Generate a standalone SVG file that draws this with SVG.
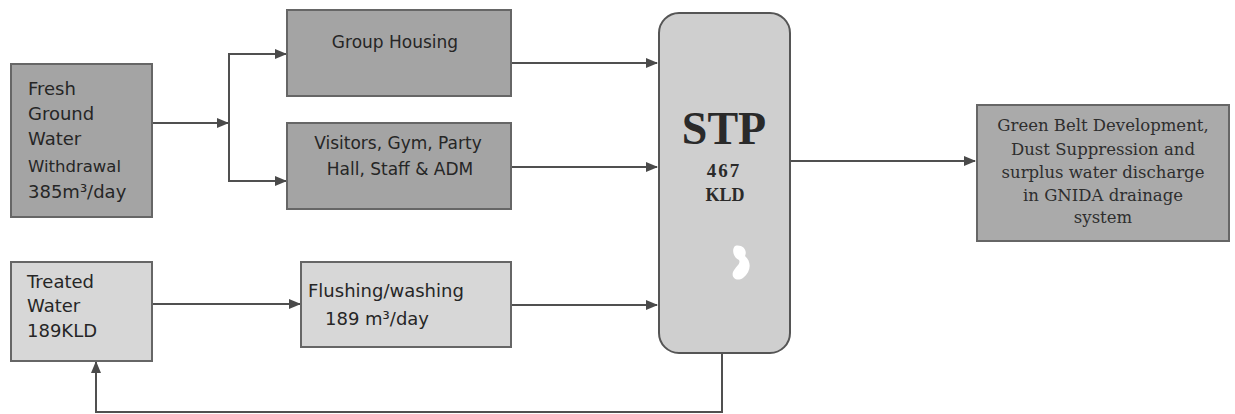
<svg xmlns="http://www.w3.org/2000/svg" width="1235" height="414" viewBox="0 0 1235 414">
<defs>
<marker id="arr" markerUnits="userSpaceOnUse" markerWidth="12" markerHeight="10" refX="11" refY="5" orient="auto">
<path d="M0,0 L12,5 L0,10 Z" fill="#4a4a4a"/>
</marker>
<style>
.box{stroke:#666;stroke-width:2}
.dark{fill:#a4a4a4}
.light{fill:#d7d7d7}
.sans{font-family:"DejaVu Sans",Verdana,sans-serif;fill:#262626}
.serif{font-family:"DejaVu Serif",Cambria,serif;fill:#2e2e2e}
.stp{font-family:"Liberation Serif","Times New Roman",serif;font-weight:bold;fill:#2a2a2a}
.conn{fill:none;stroke:#505050;stroke-width:2}
</style>
</defs>
<rect width="1235" height="414" fill="#ffffff"/>
<g id="connectors">
<path class="conn" d="M152,123 H228" marker-end="url(#arr)"/>
<path class="conn" d="M286,54 H229 V181 H286" marker-end="url(#arr)"/>
<path class="conn" d="M229,54 H286" marker-end="url(#arr)"/>
<path class="conn" d="M511,63 H657" marker-end="url(#arr)"/>
<path class="conn" d="M511,167 H657" marker-end="url(#arr)"/>
<path class="conn" d="M511,305 H657" marker-end="url(#arr)"/>
<path class="conn" d="M152,304 H300" marker-end="url(#arr)"/>
<path class="conn" d="M790,161 H975" marker-end="url(#arr)"/>
<path class="conn" d="M722,353 V412 H96 V362" marker-end="url(#arr)"/>
</g>
<g id="fresh">
<rect class="box dark" x="11" y="64" width="141" height="153"/>
<text class="sans" font-size="18" x="28" y="95">Fresh</text>
<text class="sans" font-size="18" x="28" y="120">Ground</text>
<text class="sans" font-size="18" x="28" y="145">Water</text>
<text class="sans" font-size="16.5" x="28" y="172">Withdrawal</text>
<text class="sans" font-size="18" x="28" y="198">385m³/day</text>
</g>
<g id="group-housing">
<rect class="box dark" x="287" y="10" width="224" height="86"/>
<text class="sans" font-size="17" x="395" y="48" text-anchor="middle">Group Housing</text>
</g>
<g id="visitors">
<rect class="box dark" x="287" y="123" width="224" height="86"/>
<text class="sans" font-size="17" x="398" y="149" text-anchor="middle">Visitors, Gym, Party</text>
<text class="sans" font-size="17" x="400" y="175" text-anchor="middle">Hall, Staff &amp; ADM</text>
</g>
<g id="treated">
<rect class="box light" x="11" y="262" width="141" height="99"/>
<text class="sans" font-size="18" x="27" y="288">Treated</text>
<text class="sans" font-size="18" x="27" y="312">Water</text>
<text class="sans" font-size="18" x="27" y="337">189KLD</text>
</g>
<g id="flushing">
<rect class="box light" x="301" y="262" width="210" height="85"/>
<text class="sans" font-size="18" x="308" y="297">Flushing/washing</text>
<text class="sans" font-size="18" x="325" y="325">189 m³/day</text>
</g>
<g id="stp">
<rect x="659" y="13" width="131" height="340" rx="20" ry="20" fill="#cfcfcf" stroke="#555" stroke-width="2"/>
<text class="stp" font-size="46" x="724" y="144" text-anchor="middle">STP</text>
<text class="stp" font-size="19" x="724" y="177" text-anchor="middle" letter-spacing="2">467</text>
<text class="stp" font-size="18" x="725" y="201" text-anchor="middle">KLD</text>
<path d="M735,246 C742,244 748,250 745,256 C752,262 751,272 743,278 C737,282 731,278 733,272 C736,266 741,264 739,260 C734,258 731,250 735,246 Z" fill="#ffffff"/>
</g>
<g id="green-belt">
<rect class="box" x="977" y="105" width="252" height="136" fill="#aaaaaa"/>
<text class="serif" font-size="16.5" x="1103" y="131" text-anchor="middle">Green Belt Development,</text>
<text class="serif" font-size="16.5" x="1103" y="155" text-anchor="middle">Dust Suppression and</text>
<text class="serif" font-size="16.5" x="1103" y="178" text-anchor="middle">surplus water discharge</text>
<text class="serif" font-size="16.5" x="1103" y="201" text-anchor="middle">in GNIDA drainage</text>
<text class="serif" font-size="16.5" x="1103" y="223" text-anchor="middle">system</text>
</g>
</svg>
